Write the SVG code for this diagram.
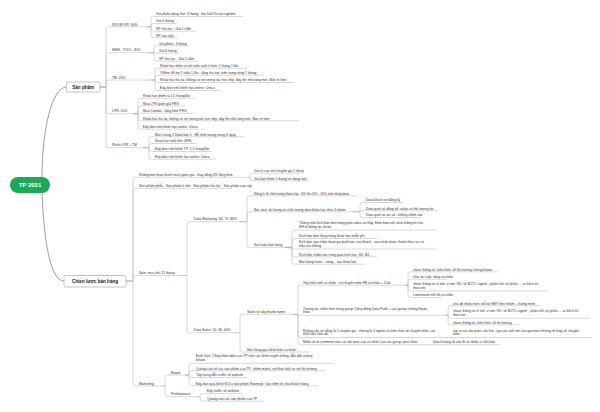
<svg xmlns="http://www.w3.org/2000/svg" width="600" height="412" viewBox="0 0 600 412">
<style>
text{font-family:"Liberation Sans",Arial,sans-serif;fill:#333;font-size:3.4px}
.c path{fill:none;stroke:#b8b8b8;stroke-width:0.55}
.root path{fill:none;stroke:#777;stroke-width:0.7}
.box{fill:#fff;stroke:#9a9a9a;stroke-width:0.6}
.h{font-weight:bold;font-size:4.6px;fill:#222}
</style>
<rect width="600" height="412" fill="#fff"/>
<g class="root">
<path d="M42 177C42 130 52 87 66.5 87"/>
<path d="M42 193C44 240 50 281 64 281"/>
</g>
<g class="c">
<path d="M100 87H106V29.3Q106 26.8 108.5 26.8H147"/>
<path d="M100 87H106V55.2Q106 52.7 108.5 52.7H148"/>
<path d="M100 87H106V82.5Q106 80 108.5 80H151"/>
<path d="M100 87H106V111.2Q106 113.7 108.5 113.7H133"/>
<path d="M100 87H106V145.2Q106 147.7 108.5 147.7H143"/>
<path d="M147 26.8H151V19Q151 16.5 153.5 16.5H243"/>
<path d="M147 26.8H151V26Q151 23.5 153.5 23.5H177"/>
<path d="M147 26.8H151V28.7Q151 31.2 153.5 31.2H196"/>
<path d="M147 26.8H151V35.3Q151 37.8 153.5 37.8H178"/>
<path d="M148 52.7H154V48.3Q154 45.8 156.5 45.8H188"/>
<path d="M148 52.7C152 52.7 152 53.2 156.5 53.2H180"/>
<path d="M148 52.7H154V58.7Q154 61.2 156.5 61.2H198"/>
<path d="M151 80H155V70.7Q155 68.2 157.5 68.2H247"/>
<path d="M151 80H155V77.7Q155 75.2 157.5 75.2H264"/>
<path d="M151 80H155Q155 82.5 157.5 82.5H294"/>
<path d="M151 80H155V88Q155 90.5 157.5 90.5H220"/>
<path d="M133 113.7H138V100.7Q138 98.2 140.5 98.2H195"/>
<path d="M133 113.7H138V108.3Q138 105.8 140.5 105.8H185"/>
<path d="M133 113.7C136 113.7 136 113.2 140.5 113.2H193"/>
<path d="M133 113.7H138V118.3Q138 120.8 140.5 120.8H299"/>
<path d="M133 113.7H138V126.7Q138 129.2 140.5 129.2H205"/>
<path d="M143 147.7H149V139.3Q149 136.8 151.5 136.8H245"/>
<path d="M143 147.7H149V146Q149 143.5 151.5 143.5H197"/>
<path d="M143 147.7H149V149Q149 151.5 151.5 151.5H212"/>
<path d="M143 147.7H149V156.7Q149 159.2 151.5 159.2H216"/>
<path d="M126 281H133V179.8Q133 177.3 135.5 177.3H248"/>
<path d="M126 281H133V190.8Q133 188.3 135.5 188.3H232"/>
<path d="M126 281H133V278Q133 275.5 135.5 275.5H181"/>
<path d="M126 281H133V383.5Q133 386 135.5 386H162"/>
<path d="M248 177.3H250V175.7Q250 173.2 252.5 173.2H301"/>
<path d="M248 177.3H250V178.3Q250 180.8 252.5 180.8H309"/>
<path d="M181 275.5H187V224.2Q187 221.7 189.5 221.7H240"/>
<path d="M181 275.5H187V330.2Q187 332.7 189.5 332.7H234"/>
<path d="M240 221.7H247V198.3Q247 195.8 249.5 195.8H357"/>
<path d="M240 221.7H247V214.3Q247 211.8 249.5 211.8H353"/>
<path d="M240 221.7H247V244.8Q247 247.3 249.5 247.3H285"/>
<path d="M353 211.8H360V205Q360 202.5 362.5 202.5H403"/>
<path d="M353 211.8C357 211.8 357 210.8 362.5 210.8H438"/>
<path d="M353 211.8H360V215Q360 217.5 362.5 217.5H421"/>
<path d="M285 247.3H292V232.5Q292 230 294.5 230H437"/>
<path d="M285 247.3H292V241Q292 238.5 294.5 238.5H377"/>
<path d="M285 247.3C289 247.3 289 249 294.5 249H437"/>
<path d="M285 247.3H292V254.3Q292 256.8 294.5 256.8H377"/>
<path d="M285 247.3H292V261.7Q292 264.2 294.5 264.2H365"/>
<path d="M234 332.7H240V316.8Q240 314.3 242.5 314.3H293"/>
<path d="M234 332.7H240V349.5Q240 352 242.5 352H309"/>
<path d="M293 314.3H298V287.7Q298 285.2 300.5 285.2H405"/>
<path d="M293 314.3C296 314.3 296 315.3 300.5 315.3H445"/>
<path d="M293 314.3H298V335Q298 337.5 300.5 337.5H445"/>
<path d="M293 314.3H298V342.2Q298 344.7 300.5 344.7H427"/>
<path d="M405 285.2H408V274.3Q408 271.8 410.5 271.8H498"/>
<path d="M405 285.2H408V281.7Q408 279.2 410.5 279.2H447"/>
<path d="M405 285.2H408V288.5Q408 291 410.5 291H548"/>
<path d="M405 285.2H408V295Q408 297.5 410.5 297.5H442"/>
<path d="M445 315.3H448V308.3Q448 305.8 450.5 305.8H540"/>
<path d="M445 315.3H448V315.8Q448 318.3 450.5 318.3H590"/>
<path d="M445 315.3H448V322.3Q448 324.8 450.5 324.8H518"/>
<path d="M445 337.5H592"/>
<path d="M427 344.7H500"/>
<path d="M162 386H165V377.5Q165 375 167.5 375H185"/>
<path d="M162 386H165V394.2Q165 396.7 167.5 396.7H197"/>
<path d="M185 375H189V365.8Q189 363.3 191.5 363.3H333"/>
<path d="M185 375H189V373.3Q189 370.8 191.5 370.8H326"/>
<path d="M185 375C187 375 187 377.5 191.5 377.5H247"/>
<path d="M185 375H189V383.3Q189 385.8 191.5 385.8H318"/>
<path d="M197 396.7H200V396Q200 393.5 202.5 393.5H242"/>
<path d="M197 396.7H200V398.7Q200 401.2 202.5 401.2H264"/>
</g>

<g id="root"><rect x="10" y="177" width="40" height="16" rx="8" fill="#1aaa55"/><text x="30" y="187.2" text-anchor="middle" style="font-weight:bold;font-size:6px;fill:#fff">TP 2021</text></g>

<g id="san-pham"><rect class="box" x="66.5" y="82" width="33.5" height="10" rx="1.5"/><text class="h" x="83.2" y="88.6" text-anchor="middle">Sản phẩm</text></g>
<g id="room-vip"><text x="112" y="25.5">ROOM VIP: 40%</text>
<text x="156" y="15.2">Giá phiếu dùng thử: 3 tháng - thu hút/Chi trải nghiệm</text>
<text x="156" y="22.2">Giá 6 tháng</text>
<text x="156" y="29.9">SP chủ lực - Giá 1 năm</text>
<text x="156" y="36.5">SP cao cấp</text></g>
<g id="web-tool"><text x="112" y="51.4">WEB - TOOL: 30%</text>
<text x="159" y="44.5">Giá phiếu: 3 tháng</text>
<text x="159" y="51.9">Giá 6 tháng</text>
<text x="159" y="59.9">SP chủ lực - Giá 1 năm</text></g>
<g id="tm"><text x="112" y="78.7">TM: 20%</text>
<text x="160" y="66.9">Khoá học điểm ra với tuần suất ít hơn: 1 tháng 1 lần</text>
<text x="160" y="73.9">Offline hỗ trợ 1 tuần 1 lần - tặng thu học viên trong vòng 1 tháng</text>
<text x="160" y="81.2">Khoá học thu lại, không có sự tương tác trực tiếp, đẩy lên nền tảng mới. Bán rẻ hơn</text>
<text x="160" y="89.2">Đẩy bán trên kênh học online: Unica</text></g>
<g id="lpr"><text x="112" y="112.4">LPR: 10%</text>
<text x="143" y="96.9">Khoá học điểm ra 1.5 tháng/lần</text>
<text x="143" y="104.5">Mua LPR giảm giá PEG</text>
<text x="143" y="111.9">Mua Combo - tặng kèm PEG</text>
<text x="143" y="119.5">Khoá học thu lại, không có sự tương tác trực tiếp, đẩy lên nền tảng mới. Bán rẻ hơn</text>
<text x="143" y="127.9">Đẩy bán trên kênh học online: Unica</text></g>
<g id="phieu"><text x="112" y="146.4">Phiếu LPR + TM</text>
<text x="155" y="135.5">Bán chung 2 khoá làm 1 : Hỗ nhất lượng trong 3 ngày</text>
<text x="155" y="142.2">Khoá học mất tiền: 699k</text>
<text x="155" y="150.2">Đẩy bán trên kênh TP: 1.5 tháng/lần</text>
<text x="155" y="157.9">Đẩy bán trên kênh học online: Unica</text></g>

<g id="chien-luoc"><rect class="box" x="64" y="275.5" width="62" height="11.5" rx="1.5"/><text class="h" x="95" y="282.9" text-anchor="middle">Chiến lược bán hàng</text></g>
<g id="khong-ban"><text x="139" y="176">Không bán theo chính sách giảm giá - thay bằng DV tặng kèm</text>
<text x="254" y="171.9">Giá trị cao với chuyên gia 2 tiếng</text>
<text x="254" y="179.5">Gia hạn thêm 1 tháng sử dụng tool</text></g>
<g id="san-pham-pheu"><text x="139" y="187">Sản phẩm phễu : Sản phẩm ít tiền : Sản phẩm chủ lực : Sản phẩm cao cấp</text></g>
<g id="sale"><text x="139" y="274.2">Sale: mục tiêu 12 tháng</text></g>
<g id="data-marketing"><text x="194" y="220.4">Data Marketing: 60, 70, 80%</text>
<text x="254" y="194.5">Nâng tỉ lệ chốt trong khóa học: 4% lên 6% - 10% trên tổng data</text>
<text x="254" y="210.5">Bóc tách số lượng và chất lượng data khóa học theo 3 nhóm</text>
<text x="366" y="201.2">Data khách tự đăng ký</text>
<text x="366" y="209.5">Data quét và đồng số: sales có thể tương tác</text>
<text x="366" y="216.2">Data quét và sai số - không chăm sóc</text>
<text x="254" y="246">Kịch bản bán hàng</text>
<text x="299" y="223.9">Thống nhất kịch bản bán hàng giữa sales và thầy. Đảm bảo việc đưa thông tin cho</text>
<text x="299" y="227.5">KH là thông tin chuẩn</text>
<text x="299" y="237.2">Kịch bản bán hàng trong khoá học miễn phí</text>
<text x="299" y="242.9">Kịch bản sau nhận tham gia buổi học của khách - sau nhận được thành thực sự có</text>
<text x="299" y="246.5">nhu cầu không</text>
<text x="299" y="255.5">Kịch bản chăm sóc trong quá trình học: B1, B2...</text>
<text x="299" y="262.9">Bán hàng trước - trong - sau khoá học</text></g>
<g id="data-sales"><text x="194" y="331.4">Data Sales: 20, 30, 40%</text>
<text x="247" y="313">Sales tự xây brand name</text>
<text x="303" y="283.9">Xây hình ảnh cá nhân : có chuyên môn FB cá nhân + Zalo</text>
<text x="413" y="270.5">share thông tin, kiến thức về thị trường chứng khoán</text>
<text x="413" y="277.9">chia sẻ cuộc sống cá nhân</text>
<text x="413" y="284.9">share thông tin vĩ mô, vi mô: VD: về BCTC ngành - phân tích cổ phiếu ... ai thích thì</text>
<text x="413" y="288.5">theo em</text>
<text x="413" y="296.2">Livestream trên fb cá nhân</text>
<text x="303" y="309.5">Tương tác nhiều hơn trong group Cộng đồng Data Profit + các group chứng khoán</text>
<text x="303" y="313.1">khác</text>
<text x="453" y="304.5">chủ đề nhiều hơn: hỗ trợ NĐT trên nhóm - chứng minh</text>
<text x="453" y="312.2">share thông tin vĩ mô, vi mô: VD: về BCTC ngành - phân tích cổ phiếu ... ai thích thì</text>
<text x="453" y="315.8">theo em</text>
<text x="453" y="323.5">share thông tin, kiến thức về thị trường</text>
<text x="303" y="331.5">Không cần cố gắng là 1 chuyên gia : nhưng là 1 người có kiến thức về chuyên môn, các</text>
<text x="303" y="335.1">thiết việc nhà sai</text>
<text x="453" y="331.5">tạo ra các bài post, câu hỏi - gợi các anh em câu question những rõ ràng về chuyên</text>
<text x="453" y="335.1">môn</text>
<text x="303" y="343.2">Nhắn tin đi comment vào các bài post của cá nhân của các group, post khác</text>
<text x="433" y="343.2">khách hàng sẽ vào fb cá nhân =&gt; kết bạn</text>
<text x="247" y="350.7">Bán hàng qua kênh bán cá nhân</text></g>
<g id="marketing"><text x="139" y="384.7">Marketing</text>
<text x="171" y="373.7">Brand</text>
<text x="196" y="357.2">Định hình, Tăng nhận diện của TP trên các kênh truyền thông, dẫn dắt chứng</text>
<text x="196" y="360.8">khoán</text>
<text x="196" y="369.5">Quảng cáo về các sản phẩm của TP : điểm mạnh, sự khác biệt so với thị trường</text>
<text x="196" y="376.2">Tập trung dẫn traffic về website</text>
<text x="196" y="384.5">Đẩy bán qua kênh KOLs sản phẩm Roomvip : tạo niềm tin cho khách hàng</text>
<text x="171" y="395.4">Performance</text>
<text x="207" y="392.2">Đẩy traffic về website</text>
<text x="207" y="399.9">Quảng cáo các sản phẩm của TP</text></g>
</svg>
